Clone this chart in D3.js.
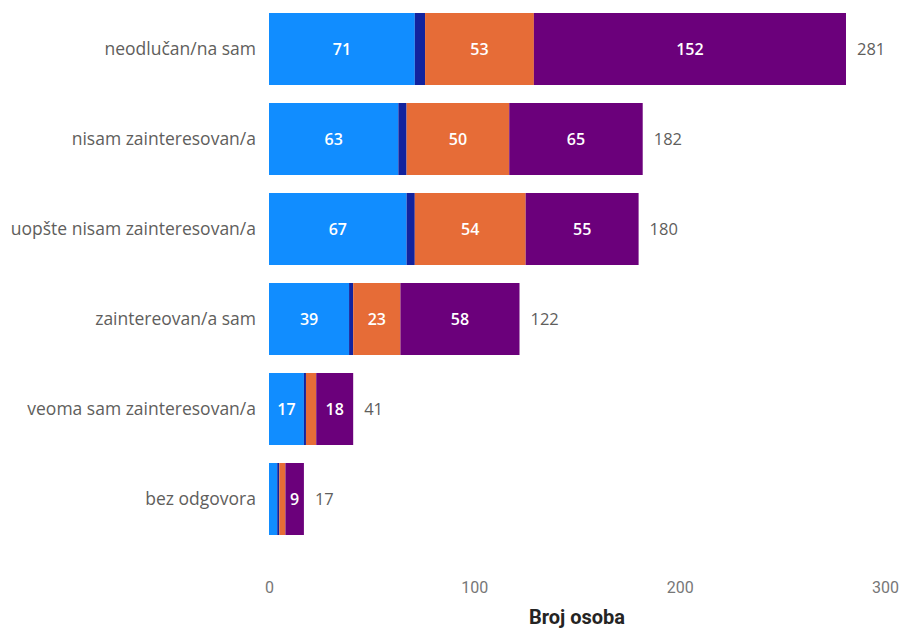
<!DOCTYPE html>
<html>
<head>
<meta charset="utf-8">
<script src="https://cdn.jsdelivr.net/npm/d3@7/dist/d3.min.js"></script>
<style>
  body { margin: 0; background: #fff; }
  svg { display: block; }
</style>
</head>
<body>
<div id="chart"></div>
<script>
var categories = ["neodlučan/na sam", "nisam zainteresovan/a", "uopšte nisam zainteresovan/a",
                  "zaintereovan/a sam", "veoma sam zainteresovan/a", "bez odgovora"];
var seriesNames = ["s1", "s2", "s3", "s4"];
var s1 = [71, 63, 67, 39, 17, 4];
var s2 = [5, 4, 4, 2, 1, 1];
var s3 = [53, 50, 54, 23, 5, 3];
var s4 = [152, 65, 55, 58, 18, 9];
var xTicks = [0, 100, 200, 300];
var colors = ["#118DFF", "#12239E", "#E66C37", "#6B007B"];

var w = 903, h = 630;
var svg = d3.select("#chart").append("svg").attr("width", w).attr("height", h);

var rows = categories.map(function (c, i) {
  return { cat: c, s1: s1[i], s2: s2[i], s3: s3[i], s4: s4[i] };
});
var stacked = d3.stack().keys(seriesNames)(rows);

var x = d3.scaleLinear().domain([0, 300]).range([269, 885]);
var y = d3.scaleBand().domain(categories).range([4, 544]).paddingInner(0.2).paddingOuter(0.1);

var font = "'Open Sans', 'Noto Sans', sans-serif";
var narrow = "'Liberation Sans Narrow', 'Roboto', sans-serif";

var layer = svg.selectAll("g.layer")
  .data(stacked)
  .enter()
  .append("g")
  .attr("class", "layer")
  .attr("fill", function (d, i) { return colors[i]; });

layer.selectAll("rect")
  .data(function (d) { return d; })
  .enter()
  .append("rect")
  .attr("x", function (d) { return x(d[0]); })
  .attr("y", function (d) { return y(d.data.cat); })
  .attr("width", function (d) { return x(d[1]) - x(d[0]); })
  .attr("height", y.bandwidth());

// labels inside segments (not for navy, only if wide enough)
stacked.forEach(function (s, si) {
  if (si === 1) return;
  svg.append("g").selectAll("text")
    .data(s.filter(function (d) { return x(d[1]) - x(d[0]) > 15; }))
    .enter()
    .append("text")
    .attr("x", function (d) { return (x(d[0]) + x(d[1])) / 2; })
    .attr("y", function (d) { return y(d.data.cat) + y.bandwidth() / 2; })
    .attr("dy", "0.35em")
    .attr("text-anchor", "middle")
    .attr("font-family", font)
    .attr("font-size", "16px")
    .attr("font-weight", 600)
    .attr("fill", "#fff")
    .text(function (d) { return d[1] - d[0]; });
});

// totals
svg.append("g").selectAll("text")
  .data(rows)
  .enter()
  .append("text")
  .attr("x", function (d) { return x(d.s1 + d.s2 + d.s3 + d.s4) + 11; })
  .attr("y", function (d) { return y(d.cat) + y.bandwidth() / 2; })
  .attr("dy", "0.35em")
  .attr("font-family", font)
  .attr("font-size", "16.5px")
  .attr("fill", "#605E5C")
  .text(function (d) { return d.s1 + d.s2 + d.s3 + d.s4; });

// category labels
svg.append("g").selectAll("text")
  .data(categories)
  .enter()
  .append("text")
  .attr("x", 256)
  .attr("y", function (d) { return y(d) + y.bandwidth() / 2; })
  .attr("dy", "0.35em")
  .attr("text-anchor", "end")
  .attr("font-family", font)
  .attr("font-size", "17.5px")
  .attr("fill", "#605E5C")
  .text(function (d) { return d; });

// x axis
var xAxis = svg.append("g")
  .attr("transform", "translate(0,582)")
  .call(d3.axisBottom(x).tickValues(xTicks).tickSize(0).tickPadding(0));
xAxis.select(".domain").remove();
xAxis.selectAll("text")
  .attr("font-family", narrow)
  .attr("font-size", "16px")
  .attr("fill", "#777");

svg.append("text")
  .attr("x", (x.range()[0] + x.range()[1]) / 2)
  .attr("y", 624)
  .attr("text-anchor", "middle")
  .attr("font-family", narrow)
  .attr("font-size", "20px")
  .attr("font-weight", "bold")
  .attr("fill", "#252423")
  .text("Broj osoba");
</script>
</body>
</html>
